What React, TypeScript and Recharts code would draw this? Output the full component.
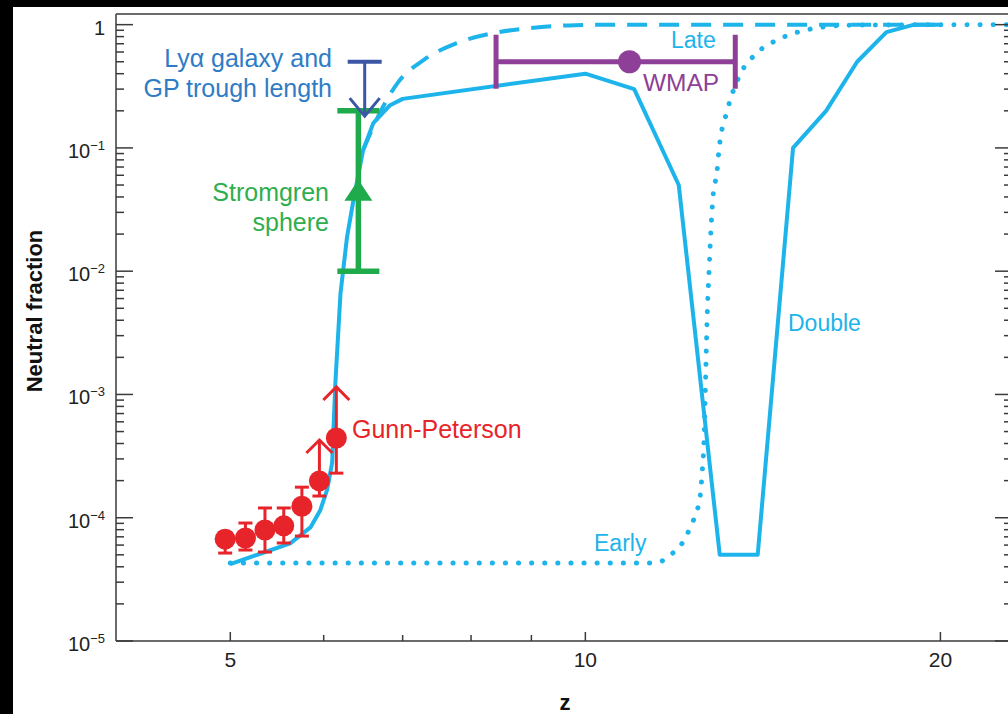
import React from 'react';
import {
  ComposedChart,
  Line,
  Scatter,
  XAxis,
  YAxis,
  ErrorBar,
  ReferenceLine,
} from 'recharts';

// Reionization histories: neutral fraction against redshift
const doubleZ = [5.0, 5.33, 5.62, 5.85, 5.96, 6.04, 6.1, 6.12, 6.14, 6.2, 6.28, 6.36, 6.48, 6.61, 6.83, 7.0, 10, 11, 12, 13, 14, 15, 16, 17, 18, 19, 20];
const doubleF = [4.2e-5, 5.2e-5, 6.2e-5, 8.4e-5, 1.15e-4, 1.68e-4, 2.8e-4, 6.2e-4, 1.3e-3, 6.6e-3, 1.9e-2, 3.8e-2, 0.096, 0.159, 0.222, 0.25, 0.4, 0.3, 0.05, 5e-5, 5e-5, 0.1, 0.2, 0.5, 0.87, 1, 1];

const lateZ = [6.48, 6.7, 6.94, 7.29, 7.78, 8.35, 8.98, 9.8, 10.7, 20];
const lateF = [0.096, 0.195, 0.342, 0.515, 0.708, 0.853, 0.937, 0.99, 1, 1];

const earlyZ = [5.0, 11.39, 11.64, 11.87, 12.08, 12.32, 12.44, 12.51, 12.56, 12.61, 12.65, 12.68, 12.73, 12.83, 12.93, 12.98, 13.19, 13.52, 13.98, 14.54, 15.14, 15.9, 16.75, 23];
const earlyF = [4.3e-5, 4.3e-5, 4.5e-5, 5.2e-5, 6.2e-5, 9.1e-5, 1.15e-4, 1.47e-4, 2.3e-4, 4.5e-4, 1.5e-3, 3.8e-3, 9.8e-3, 0.04, 0.064, 0.096, 0.2, 0.39, 0.59, 0.75, 0.87, 0.955, 0.99, 1];

// Gunn-Peterson measurements
const gpZ = [4.95, 5.15, 5.35, 5.55, 5.75, 5.95, 6.15];
const gpF = [6.7e-5, 6.85e-5, 7.95e-5, 8.6e-5, 1.24e-4, 1.99e-4, 4.43e-4];
const gpLow = [5.17e-5, 5.47e-5, 5.27e-5, 6.24e-5, 7.1e-5, 1.5e-4, 2.3e-4];
const gpHigh = [7.6e-5, 9.06e-5, 1.2e-4, 1.2e-4, 1.77e-4, 1.99e-4, 4.43e-4];
// lower limits: arrow tips for the last two points
const gpLimitIdx = [5, 6];
const gpLimitTip = [4.27e-4, 1.15e-3];

// Stromgren sphere
const stromZ = [6.42];
const stromF = [0.045];
const stromLow = [0.01];
const stromHigh = [0.2];

// Lya galaxies / GP trough length upper limit
const lyaZ = 6.5;
const lyaTop = 0.5;
const lyaTip = 0.181;

// WMAP
const wmapZ = [10.9];
const wmapF = [0.5];
const wmapLow = [8.4];
const wmapHigh = [13.4];

const xTicks = [5, 6, 7, 8, 9, 10, 20];
const xTickLabels: Record<number, string> = { 5: '5', 10: '10', 20: '20' };
const yMajor = [1e-5, 1e-4, 1e-3, 1e-2, 1e-1, 1];
const yMajorLabels = ['−5', '−4', '−3', '−2', '−1', ''];
const yTicks = [
  ...yMajor,
  ...[-5, -4, -3, -2, -1].flatMap((d) =>
    [2, 3, 4, 5, 6, 7, 8, 9].map((m) => Number((m * 10 ** d).toPrecision(3)))
  ),
].sort((a, b) => a - b);

const CYAN = '#1cb4ea';
const RED = '#e8242b';
const GREEN = '#1fab4c';
const PURPLE = '#8e3f97';
const NAVY = '#3c56a6';
const AXIS = '#3a3a3a';
const FONT = '"Liberation Sans", Arial, Helvetica, sans-serif';

const rows = (zs: number[], fs: number[]) => zs.map((z, i) => ({ z, f: fs[i] }));
const doubleData = rows(doubleZ, doubleF);
const lateData = rows(lateZ, lateF);
const earlyData = rows(earlyZ, earlyF);
const gpData = gpZ.map((z, i) => ({ z, f: gpF[i], err: [gpF[i] - gpLow[i], gpHigh[i] - gpF[i]] }));
const stromData = stromZ.map((z, i) => ({ z, f: stromF[i], err: [stromF[i] - stromLow[i], stromHigh[i] - stromF[i]] }));
const wmapData = wmapZ.map((z, i) => ({ z, f: wmapF[i], err: [z - wmapLow[i], wmapHigh[i] - z] }));

const isDecade = (v: number) => Math.abs(Math.log10(v) - Math.round(Math.log10(v))) < 1e-6;

function LeftTick(props: any) {
  const { x, y, payload } = props;
  const v = payload.value;
  const major = isDecade(v);
  const idx = yMajor.findIndex((m) => Math.abs(Math.log10(m) - Math.log10(v)) < 1e-6);
  return (
    <g>
      <line x1={x} y1={y} x2={x + (major ? 17 : 8)} y2={y} stroke={AXIS} strokeWidth={1.5} />
      {major && (
        <text x={x - 11} y={y + 10} textAnchor="end" fontFamily={FONT} fontSize={20} fill="#222">
          {v === 1 ? '1' : '10'}
          {v !== 1 && (
            <tspan dy={-8} fontSize={13}>
              {yMajorLabels[idx]}
            </tspan>
          )}
        </text>
      )}
    </g>
  );
}

function RightTick(props: any) {
  const { x, y, payload } = props;
  const major = isDecade(payload.value);
  return <line x1={x} y1={y} x2={x - (major ? 17 : 8)} y2={y} stroke={AXIS} strokeWidth={1.5} />;
}

function BottomTick(props: any) {
  const { x, y, payload } = props;
  const label = xTickLabels[payload.value];
  return (
    <g>
      <line x1={x} y1={y} x2={x} y2={y - (label ? 9 : 6)} stroke={AXIS} strokeWidth={1.5} />
      {label && (
        <text x={x} y={y + 26} textAnchor="middle" fontFamily={FONT} fontSize={21} fill="#222">
          {label}
        </text>
      )}
    </g>
  );
}

function TopTick(props: any) {
  const { x, y, payload } = props;
  const major = xTickLabels[payload.value] !== undefined;
  return <line x1={x} y1={y} x2={x} y2={y + (major ? 9 : 8)} stroke={AXIS} strokeWidth={1.5} />;
}

// vertical arrow with an open chevron head, optional cap at the start
const arrow = (color: string, half: number, len: number, cap = 0, width = 3) =>
  function ArrowShape(props: any) {
    const { x1, y1, x2, y2 } = props;
    const dir = y2 > y1 ? 1 : -1;
    return (
      <g stroke={color} strokeWidth={width} fill="none">
        <line x1={x1} y1={y1} x2={x2} y2={y2} />
        <polyline points={`${x2 - half},${y2 - dir * len} ${x2},${y2} ${x2 + half},${y2 - dir * len}`} />
        {cap > 0 && <line x1={x1 - cap} y1={y1} x2={x1 + cap} y2={y1} strokeWidth={width + 1} />}
      </g>
    );
  };

const gpArrow = arrow(RED, 13, 13, 0, 3);
const lyaArrow = arrow(NAVY, 15, 18, 17, 3);

const labels = [
  { text: 'Lyα galaxy and', x: 332, y: 67, anchor: 'end', color: '#2f7cc6', size: 25 },
  { text: 'GP trough length', x: 332, y: 97, anchor: 'end', color: '#2f7cc6', size: 25 },
  { text: 'Stromgren', x: 329, y: 201, anchor: 'end', color: '#2fae4e', size: 25 },
  { text: 'sphere', x: 329, y: 231, anchor: 'end', color: '#2fae4e', size: 25 },
  { text: 'Gunn-Peterson', x: 352, y: 438, anchor: 'start', color: RED, size: 25 },
  { text: 'Late', x: 671, y: 48, anchor: 'start', color: CYAN, size: 23 },
  { text: 'WMAP', x: 643, y: 91, anchor: 'start', color: PURPLE, size: 24.5 },
  { text: 'Double', x: 788, y: 331, anchor: 'start', color: CYAN, size: 23 },
  { text: 'Early', x: 594, y: 551, anchor: 'start', color: CYAN, size: 23 },
];

export default function App() {
  return (
    <div style={{ position: 'fixed', left: 0, top: 0, width: 1008, height: 714, background: '#000', overflow: 'hidden' }}>
      <div style={{ position: 'absolute', left: 13, top: 7, right: 0, bottom: 0, background: '#fff' }} />
      <div style={{ position: 'absolute', left: 0, top: 0 }}>
        <ComposedChart width={1040} height={714} margin={{ top: 4, right: 8, bottom: 23, left: 16 }}>
          <XAxis
            xAxisId={0}
            dataKey="z"
            type="number"
            scale="log"
            domain={[4, 23]}
            allowDataOverflow
            ticks={xTicks}
            interval={0}
            tickSize={0}
            tickMargin={0}
            tick={<BottomTick />}
            height={50}
            axisLine={{ stroke: AXIS, strokeWidth: 1.5 }}
            tickLine={false}
          />
          <XAxis
            xAxisId="top"
            orientation="top"
            type="number"
            scale="log"
            domain={[4, 23]}
            allowDataOverflow
            ticks={xTicks}
            interval={0}
            tickSize={0}
            tickMargin={0}
            tick={<TopTick />}
            height={10}
            axisLine={{ stroke: AXIS, strokeWidth: 1.5 }}
            tickLine={false}
          />
          <YAxis
            yAxisId={0}
            type="number"
            scale="log"
            domain={[1e-5, 1.22]}
            allowDataOverflow
            ticks={yTicks}
            interval={0}
            tickSize={0}
            tickMargin={0}
            tick={<LeftTick />}
            width={100}
            axisLine={{ stroke: AXIS, strokeWidth: 1.5 }}
            tickLine={false}
          />
          <YAxis
            yAxisId="right"
            orientation="right"
            type="number"
            scale="log"
            domain={[1e-5, 1.22]}
            allowDataOverflow
            ticks={yTicks}
            interval={0}
            tickSize={0}
            tickMargin={0}
            tick={<RightTick />}
            width={20}
            axisLine={{ stroke: AXIS, strokeWidth: 1.5 }}
            tickLine={false}
          />

          <Line
            data={earlyData}
            dataKey="f"
            type="monotone"
            stroke={CYAN}
            strokeWidth={5}
            strokeDasharray="0.1 13"
            strokeLinecap="round"
            dot={false}
            isAnimationActive={false}
          />
          <Line
            data={lateData}
            dataKey="f"
            type="monotone"
            stroke={CYAN}
            strokeWidth={4}
            strokeDasharray="20 12"
            dot={false}
            isAnimationActive={false}
          />
          <Line
            data={doubleData}
            dataKey="f"
            type="linear"
            stroke={CYAN}
            strokeWidth={4}
            strokeLinejoin="round"
            dot={false}
            isAnimationActive={false}
          />

          <Scatter
            data={wmapData}
            dataKey="f"
            isAnimationActive={false}
            shape={(p: any) => <circle cx={p.cx} cy={p.cy} r={11.5} fill={PURPLE} />}
          >
            <ErrorBar dataKey="err" direction="x" width={27} stroke={PURPLE} strokeWidth={5} />
          </Scatter>

          <Scatter
            data={stromData}
            dataKey="f"
            isAnimationActive={false}
            shape={(p: any) => (
              <polygon
                points={`${p.cx},${p.cy - 11} ${p.cx + 14},${p.cy + 10} ${p.cx - 14},${p.cy + 10}`}
                fill={GREEN}
              />
            )}
          >
            <ErrorBar dataKey="err" direction="y" width={21} stroke={GREEN} strokeWidth={5.5} />
          </Scatter>

          <ReferenceLine
            segment={[{ x: lyaZ, y: lyaTop }, { x: lyaZ, y: lyaTip }]}
            shape={lyaArrow}
          />

          {gpLimitIdx.map((idx, i) => (
            <ReferenceLine
              key={idx}
              segment={[{ x: gpZ[idx], y: gpF[idx] }, { x: gpZ[idx], y: gpLimitTip[i] }]}
              shape={gpArrow}
            />
          ))}

          <Scatter
            data={gpData}
            dataKey="f"
            isAnimationActive={false}
            shape={(p: any) => <circle cx={p.cx} cy={p.cy} r={10.5} fill={RED} />}
          >
            <ErrorBar dataKey="err" direction="y" width={7} stroke={RED} strokeWidth={3} />
          </Scatter>
        </ComposedChart>
      </div>
      <svg width={1008} height={714} style={{ position: 'absolute', left: 0, top: 0, pointerEvents: 'none' }}>
        {labels.map((l) => (
          <text
            key={l.text}
            x={l.x}
            y={l.y}
            textAnchor={l.anchor as any}
            fontFamily={FONT}
            fontSize={l.size}
            fill={l.color}
          >
            {l.text}
          </text>
        ))}
        <text x={565} y={710} textAnchor="middle" fontFamily={FONT} fontSize={22} fontWeight="bold" fill="#111">
          z
        </text>
        <text
          x={0}
          y={0}
          transform="translate(42, 311) rotate(-90)"
          textAnchor="middle"
          fontFamily={FONT}
          fontSize={22}
          fontWeight="bold"
          fill="#111"
        >
          Neutral fraction
        </text>
      </svg>
    </div>
  );
}
